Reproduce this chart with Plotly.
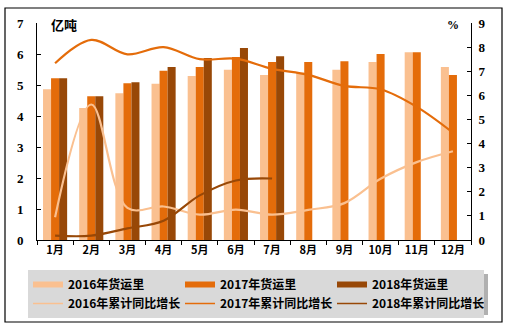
import plotly.graph_objects as go

months = ["1月", "2月", "3月", "4月", "5月", "6月", "7月", "8月", "9月", "10月", "11月", "12月"]

# monthly freight volume, 100 million tonnes
freight_2016 = [4.86, 4.26, 4.73, 5.04, 5.29, 5.49, 5.32, 5.40, 5.49, 5.74, 6.06, 5.58]
freight_2017 = [5.22, 4.64, 5.06, 5.46, 5.58, 5.90, 5.74, 5.74, 5.77, 6.00, 6.06, 5.32]
freight_2018 = [5.22, 4.64, 5.09, 5.58, 5.87, 6.19, 5.93, None, None, None, None, None]

# cumulative year-on-year growth, %
growth_2016 = [0.94, 5.62, 1.33, 1.39, 1.05, 1.26, 1.05, 1.25, 1.53, 2.54, 3.23, 3.68]
growth_2017 = [7.33, 8.30, 7.70, 8.00, 7.50, 7.52, 7.10, 6.85, 6.39, 6.25, 5.52, 4.45]
growth_2018 = [0.18, 0.18, 0.48, 0.80, 1.85, 2.47, 2.55, None, None, None, None, None]

c16, c17, c18 = "#FAC090", "#E46C0A", "#984807"
FONT = "Noto Sans CJK SC, sans-serif"
NUMFONT = "Liberation Serif, Noto Sans CJK SC, serif"

fig = go.Figure()

for name, vals, col in [("2016年货运里", freight_2016, c16),
                        ("2017年货运里", freight_2017, c17),
                        ("2018年货运里", freight_2018, c18)]:
    fig.add_trace(go.Bar(x=months, y=vals, name=name, marker_color=col,
                         marker_line_width=0, showlegend=False))

for name, vals, col in [("2016年累计同比增长", growth_2016, c16),
                        ("2017年累计同比增长", growth_2017, c17),
                        ("2018年累计同比增长", growth_2018, c18)]:
    fig.add_trace(go.Scatter(x=months, y=vals, name=name, yaxis="y2", mode="lines",
                             line=dict(color=col, width=2.2, shape="spline", smoothing=1),
                             connectgaps=False, showlegend=False))

# legend entries: thick swatches for the bar series, thin lines for the growth series
for name, col, w in [("2016年货运里", c16, 6), ("2017年货运里", c17, 6), ("2018年货运里", c18, 6),
                     ("2016年累计同比增长", c16, 1.5), ("2017年累计同比增长", c17, 1.5),
                     ("2018年累计同比增长", c18, 1.5)]:
    fig.add_trace(go.Scatter(x=[None], y=[None], name=name, mode="lines",
                             line=dict(color=col, width=w), showlegend=True))

L, R, T, B = 37, 40, 23, 94
PW, PH = 511 - L - R, 334 - T - B

def px(x):
    return (x - L) / PW

def py(y):
    return (334 - B - y) / PH

fig.update_layout(
    width=511, height=334,
    margin=dict(l=L, r=R, t=T, b=B),
    paper_bgcolor="white", plot_bgcolor="white",
    font=dict(family=FONT, size=11, color="black"),
    barmode="group", bargap=1/3, bargroupgap=0,
    showlegend=True,
    legend=dict(orientation="h", x=px(28), y=py(270), xanchor="left", yanchor="top",
                bgcolor="#D9D9D9", borderwidth=0,
                entrywidth=107, entrywidthmode="pixels",
                font=dict(family=FONT, size=12, color="black", weight="bold"),
                traceorder="normal"),
    xaxis=dict(showline=True, linecolor="black", linewidth=1,
               ticks="outside", ticklen=4, tickcolor="black", tickson="boundaries",
               tickfont=dict(size=11, weight="bold"), showgrid=False),
    yaxis=dict(range=[0, 7], dtick=1, showline=True, linecolor="black", linewidth=1,
               ticks="inside", ticklen=4, tickcolor="black", showgrid=False, zeroline=False,
               ticklabelstandoff=10,
               tickfont=dict(family=NUMFONT, size=13, weight="bold")),
    yaxis2=dict(range=[0, 9], dtick=1, overlaying="y", side="right", showline=True,
                linecolor="black", linewidth=1, ticks="inside", ticklen=4, tickcolor="black",
                showgrid=False, zeroline=False, ticklabelstandoff=4,
                tickfont=dict(family=NUMFONT, size=13, weight="bold")),
    annotations=[
        dict(text="亿吨", xref="paper", yref="paper", x=px(49), y=py(25), xanchor="left",
             yanchor="middle", showarrow=False, font=dict(size=13, weight="bold")),
        dict(text="%", xref="paper", yref="paper", x=px(453), y=py(25), xanchor="center",
             yanchor="middle", showarrow=False,
             font=dict(family=NUMFONT, size=12, weight="bold")),
    ],
    shapes=[
        dict(type="rect", xref="paper", yref="paper", x0=px(5), x1=px(502), y0=py(322), y1=py(8),
             line=dict(color="black", width=1.2), fillcolor="rgba(0,0,0,0)", layer="below"),
        # soft drop shadow under the legend box
        dict(type="rect", xref="paper", yref="paper", x0=px(32), x1=px(488), y0=py(315), y1=py(274),
             line=dict(width=0), fillcolor="#B0B0B0", layer="below"),
    ],
)

fig.write_html("out.html")
